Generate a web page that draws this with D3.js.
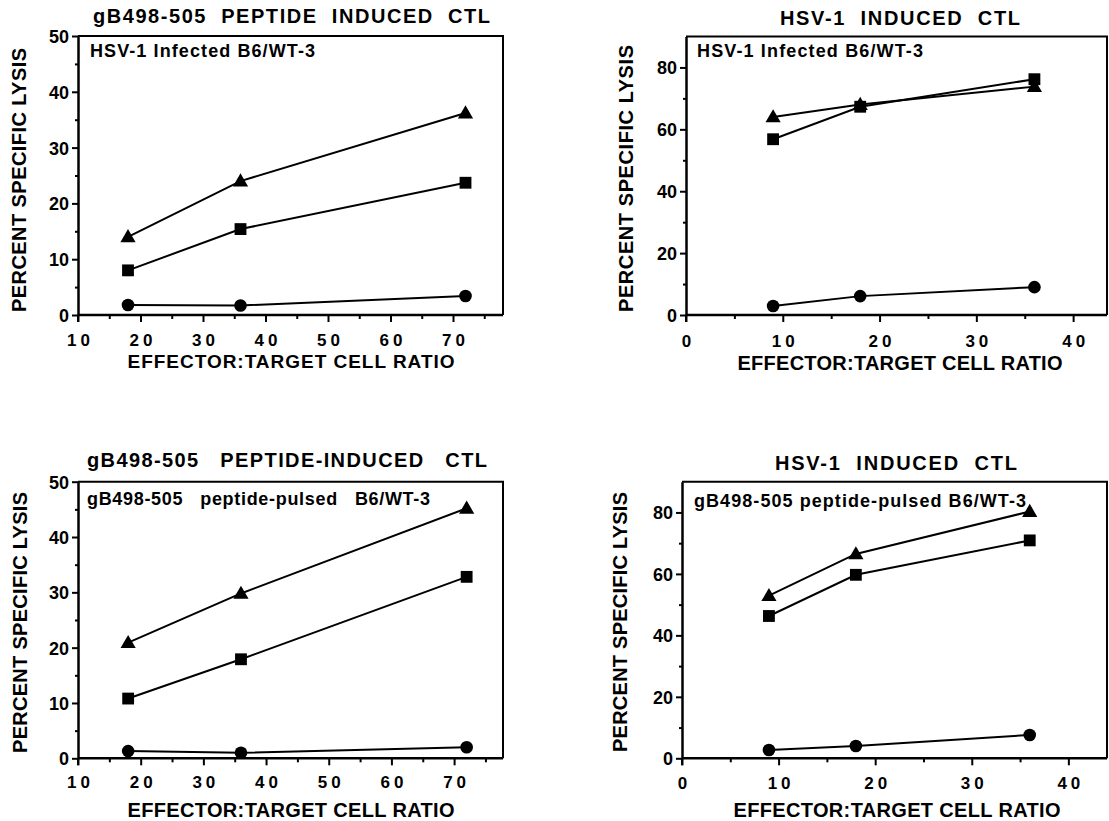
<!DOCTYPE html>
<html>
<head>
<meta charset="utf-8">
<script src="https://cdn.jsdelivr.net/npm/d3@7"></script>
<style>
  html, body { margin: 0; padding: 0; background: #fff; }
  svg { display: block; }
  text { font-family: "Liberation Sans", Arial, Helvetica, sans-serif; font-weight: bold; fill: #000; white-space: pre; }
</style>
</head>
<body>
<svg id="chart" width="1109" height="821"></svg>
<script>
// ---------------- DATA ----------------
const etPeptide = [18, 36, 72];      // E:T ratios, peptide-induced CTL panels
const etHSV = [9, 18, 36];           // E:T ratios, HSV-1 induced CTL panels

// Panel A: gB498-505 peptide induced CTL vs HSV-1 infected B6/WT-3
const aTriangle = [14.0, 24.0, 36.2];
const aSquare   = [8.0, 15.4, 23.7];
const aCircle   = [1.8, 1.7, 3.4];

// Panel B: HSV-1 induced CTL vs HSV-1 infected B6/WT-3
const bTriangle = [64.0, 68.0, 73.8];
const bSquare   = [56.8, 67.3, 76.2];
const bCircle   = [2.9, 6.1, 9.0];

// Panel C: gB498-505 peptide-induced CTL vs peptide-pulsed B6/WT-3
const cTriangle = [20.9, 29.8, 45.2];
const cSquare   = [10.8, 17.9, 32.8];
const cCircle   = [1.3, 1.0, 2.0];

// Panel D: HSV-1 induced CTL vs peptide-pulsed B6/WT-3
const dTriangle = [52.9, 66.5, 80.3];
const dSquare   = [46.3, 59.7, 70.9];
const dCircle   = [2.7, 4.0, 7.6];

const titles = [
  "gB498-505  PEPTIDE  INDUCED  CTL",
  "HSV-1  INDUCED  CTL",
  "gB498-505   PEPTIDE-INDUCED   CTL",
  "HSV-1  INDUCED  CTL"
];
const insetLabels = [
  "HSV-1 Infected B6/WT-3",
  "HSV-1 Infected B6/WT-3",
  "gB498-505   peptide-pulsed   B6/WT-3",
  "gB498-505 peptide-pulsed B6/WT-3"
];
const yAxisTitle = "PERCENT SPECIFIC LYSIS";
const xAxisTitle = "EFFECTOR:TARGET CELL RATIO";

const xTicksPeptide = [10, 20, 30, 40, 50, 60, 70];
const xMinorPeptide = [15, 25, 35, 45, 55, 65, 75];
const xTicksHSV = [0, 10, 20, 30, 40];
const xMinorHSV = [5, 15, 25, 35];
const yTicks50 = [0, 10, 20, 30, 40, 50];
const yMinor50 = [5, 15, 25, 35, 45];
const yTicks90 = [0, 20, 40, 60, 80];
const yMinor90 = [10, 30, 50, 70];

// ---------------- LAYOUT ----------------
const panels = [
  { x: etPeptide, series: [aTriangle, aSquare, aCircle], xDomain: [10, 78], yDomain: [0, 50],
    xTicks: xTicksPeptide, xMinor: xMinorPeptide, yTicks: yTicks50, yMinor: yMinor50,
    box: { l: 78, r: 503, t: 36, b: 315 },
    title: { cx: 291.5, y: 23, w: 397 }, inset: { x: 90, y: 57, w: 225 },
    yTitle: { x: 25.5, cy: 180, w: 264 }, xTitle: { cx: 291, y: 367.5, w: 327, fs: 19 }, xLabY: 345.5 },
  { x: etHSV, series: [bTriangle, bSquare, bCircle], xDomain: [0, 43.5], yDomain: [0, 90],
    xTicks: xTicksHSV, xMinor: xMinorHSV, yTicks: yTicks90, yMinor: yMinor90,
    box: { l: 686, r: 1107, t: 36.5, b: 315 },
    title: { cx: 900, y: 25, w: 240 }, inset: { x: 697, y: 57, w: 226 },
    yTitle: { x: 633, cy: 178.5, w: 267 }, xTitle: { cx: 900, y: 370, w: 325, fs: 20 }, xLabY: 347 },
  { x: etPeptide, series: [cTriangle, cSquare, cCircle], xDomain: [10, 77.8], yDomain: [0, 50],
    xTicks: xTicksPeptide, xMinor: xMinorPeptide, yTicks: yTicks50, yMinor: yMinor50,
    box: { l: 78, r: 503, t: 481.7, b: 758.3 },
    title: { cx: 287, y: 467, w: 400 }, inset: { x: 87, y: 505, w: 343 },
    yTitle: { x: 27, cy: 622.5, w: 261 }, xTitle: { cx: 291, y: 817, w: 327, fs: 20 }, xLabY: 788 },
  { x: etHSV, series: [dTriangle, dSquare, dCircle], xDomain: [0, 44], yDomain: [0, 90],
    xTicks: xTicksHSV, xMinor: xMinorHSV, yTicks: yTicks90, yMinor: yMinor90,
    box: { l: 682, r: 1107, t: 481.7, b: 758.3 },
    title: { cx: 896, y: 470, w: 242 }, inset: { x: 694, y: 507, w: 332 },
    yTitle: { x: 627, cy: 622, w: 260 }, xTitle: { cx: 897, y: 817, w: 327, fs: 20 }, xLabY: 789 }
];

const svg = d3.select("#chart");
const markers = [d3.symbolTriangle, d3.symbolSquare, d3.symbolCircle];
const markerSizes = [100, 140, 125];

panels.forEach((p, i) => {
  const g = svg.append("g");
  const x = d3.scaleLinear().domain(p.xDomain).range([p.box.l, p.box.r]);
  const y = d3.scaleLinear().domain(p.yDomain).range([p.box.b, p.box.t]);

  // top and right border
  g.append("path")
    .attr("d", `M${p.box.l},${p.box.t}H${p.box.r}V${p.box.b}`)
    .attr("fill", "none").attr("stroke", "#000").attr("stroke-width", 2);

  // Y axis
  const ya = g.append("g").attr("transform", `translate(${p.box.l},0)`)
    .call(d3.axisLeft(y).tickValues(p.yTicks).tickSize(6).tickSizeOuter(0).tickFormat(d3.format("d")));
  ya.append("g").call(d3.axisLeft(y).tickValues(p.yMinor).tickSize(3).tickFormat(""))
    .select(".domain").remove();
  ya.selectAll(".domain").attr("stroke-width", 2.5);
  ya.selectAll("line").attr("stroke-width", 2);
  ya.selectAll("text").attr("x", -9).attr("dy", "0.36em")
    .style("font-size", "18px").style("font-family", "Liberation Sans, Arial, sans-serif").style("font-weight", "bold");

  // X axis
  const xa = g.append("g").attr("transform", `translate(0,${p.box.b})`)
    .call(d3.axisBottom(x).tickValues(p.xTicks).tickSize(7).tickSizeOuter(0).tickFormat(d3.format("d")));
  xa.append("g").call(d3.axisBottom(x).tickValues(p.xMinor).tickSize(4).tickFormat(""))
    .select(".domain").remove();
  xa.selectAll(".domain").attr("stroke-width", 2.5).attr("d", `M${p.box.l},0H${p.box.r}`);
  xa.selectAll("line").attr("stroke-width", 2);
  xa.selectAll(".tick text")
    .attr("y", p.xLabY - p.box.b).attr("dy", 0).attr("dx", 2)
    .style("font-size", "17px").style("letter-spacing", "4px")
    .style("font-family", "Liberation Sans, Arial, sans-serif").style("font-weight", "bold");
  // extend y-axis line slightly below
  g.append("line").attr("x1", p.box.l).attr("x2", p.box.l).attr("y1", p.box.b).attr("y2", p.box.b + 7)
    .attr("stroke", "#000").attr("stroke-width", 2);

  // lines
  const line = d3.line().x((d, k) => x(p.x[k])).y(d => y(d));
  p.series.forEach((s, k) => {
    g.append("path").datum(s).attr("d", line)
      .attr("fill", "none").attr("stroke", "#000").attr("stroke-width", 2);
  });
  p.series.forEach((s, k) => {
    g.selectAll(null).data(s).enter().append("path")
      .attr("d", d3.symbol().type(markers[k]).size(markerSizes[k]))
      .attr("transform", (d, j) => `translate(${x(p.x[j])},${y(d) + (k === 0 ? 1 : 0)})`)
      .attr("fill", "#000");
  });

  // title
  g.append("text").attr("x", p.title.cx).attr("y", p.title.y)
    .attr("text-anchor", "middle").attr("textLength", p.title.w)
    .style("font-size", "20px").text(titles[i]);
  // inset label
  g.append("text").attr("x", p.inset.x).attr("y", p.inset.y)
    .attr("textLength", p.inset.w)
    .style("font-size", "18px").text(insetLabels[i]);
  // y title
  g.append("text").attr("transform", `translate(${p.yTitle.x},${p.yTitle.cy}) rotate(-90)`)
    .attr("text-anchor", "middle").attr("textLength", p.yTitle.w)
    .style("font-size", "20px").text(yAxisTitle);
  // x title
  g.append("text").attr("x", p.xTitle.cx).attr("y", p.xTitle.y)
    .attr("text-anchor", "middle").attr("textLength", p.xTitle.w)
    .style("font-size", p.xTitle.fs + "px").text(xAxisTitle);
});
</script>
</body>
</html>
